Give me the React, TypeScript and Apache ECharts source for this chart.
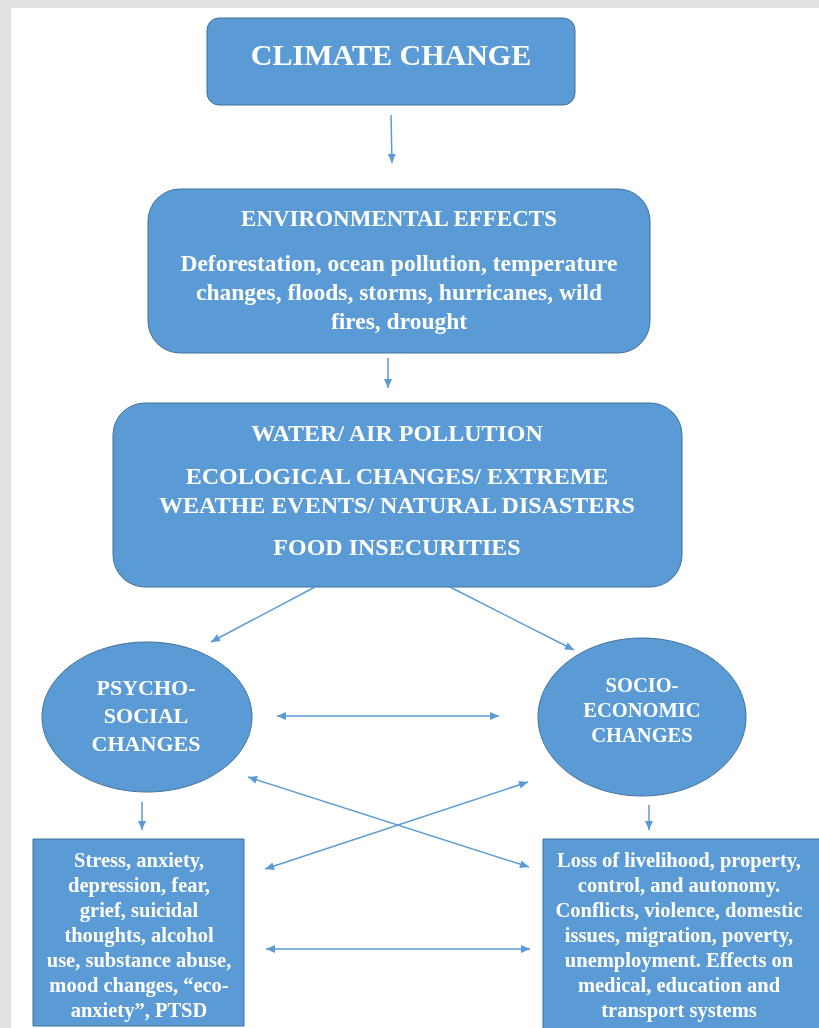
import React, { useEffect, useRef } from "react";
import * as echarts from "echarts";

const title = "CLIMATE CHANGE";
const envTitle = "ENVIRONMENTAL EFFECTS";
const envLines = [
  "Deforestation, ocean pollution, temperature",
  "changes, floods, storms, hurricanes, wild",
  "fires, drought",
];
const impactLines = [
  "WATER/ AIR POLLUTION",
  "ECOLOGICAL CHANGES/ EXTREME",
  "WEATHE EVENTS/ NATURAL DISASTERS",
  "FOOD INSECURITIES",
];
const psychoLines = ["PSYCHO-", "SOCIAL", "CHANGES"];
const socioLines = ["SOCIO-", "ECONOMIC", "CHANGES"];
const psychoEffects = [
  "Stress, anxiety,",
  "depression, fear,",
  "grief, suicidal",
  "thoughts, alcohol",
  "use, substance abuse,",
  "mood changes, \u201ceco-",
  "anxiety\u201d, PTSD",
];
const socioEffects = [
  "Loss of livelihood, property,",
  "control, and autonomy.",
  "Conflicts, violence, domestic",
  "issues, migration, poverty,",
  "unemployment. Effects on",
  "medical, education and",
  "transport systems",
];

const FILL = "#5b9bd5";
const STROKE = "#41719c";
const ARROW = "#5b9bd5";
const FONT = "'Liberation Serif', 'DejaVu Serif', serif";

function txt(s: string, x: number, y: number, size: number): any {
  return {
    type: "text",
    x,
    y,
    style: {
      text: s,
      fill: "#ffffff",
      font: `bold ${size}px ${FONT}`,
      textAlign: "center",
      textVerticalAlign: "middle",
    },
    z: 10,
  };
}

function head(x: number, y: number, ang: number): any {
  const L = 9, W = 4;
  const bx = x - L * Math.cos(ang), by = y - L * Math.sin(ang);
  const px = -Math.sin(ang) * W, py = Math.cos(ang) * W;
  return {
    type: "polygon",
    shape: { points: [[x, y], [bx + px, by + py], [bx - px, by - py]] },
    style: { fill: ARROW },
    z: 5,
  };
}

function arrow(x1: number, y1: number, x2: number, y2: number, both = false): any[] {
  const ang = Math.atan2(y2 - y1, x2 - x1);
  const els: any[] = [
    {
      type: "line",
      shape: { x1, y1, x2, y2 },
      style: { stroke: ARROW, lineWidth: 1.5 },
      z: 5,
    },
    head(x2, y2, ang),
  ];
  if (both) els.push(head(x1, y1, ang + Math.PI));
  return els;
}

export default function App() {
  const ref = useRef<HTMLDivElement>(null);
  useEffect(() => {
    const chart = echarts.init(ref.current!, null, { renderer: "svg" });
    const g: any[] = [];
    // background borders
    g.push({ type: "rect", shape: { x: 0, y: 0, width: 819, height: 1028 }, style: { fill: "#e1e1e1" }, z: 0 });
    g.push({ type: "rect", shape: { x: 11, y: 8, width: 808, height: 1020 }, style: { fill: "#ffffff" }, z: 1 });

    // Box 1
    g.push({ type: "rect", shape: { x: 207, y: 18, width: 368, height: 87, r: 12 }, style: { fill: FILL, stroke: STROKE, lineWidth: 1 }, z: 3 });
    g.push(txt(title, 391, 54, 30));
    g.push(...arrow(391, 115, 392, 163));

    // Box 2
    g.push({ type: "rect", shape: { x: 148, y: 189, width: 502, height: 164, r: 32 }, style: { fill: FILL, stroke: STROKE, lineWidth: 1 }, z: 3 });
    g.push(txt(envTitle, 399, 218, 23));
    envLines.forEach((s, i) => g.push(txt(s, 399, 263 + i * 29, 23.5)));
    g.push(...arrow(388, 358, 388, 388));

    // Box 3
    g.push({ type: "rect", shape: { x: 113, y: 403, width: 569, height: 184, r: 32 }, style: { fill: FILL, stroke: STROKE, lineWidth: 1 }, z: 3 });
    const iy = [433, 476, 505, 547];
    impactLines.forEach((s, i) => g.push(txt(s, 397, iy[i], 24)));

    // arrows to ellipses
    g.push(...arrow(315, 587, 211, 642));
    g.push(...arrow(450, 587, 574, 650));

    // ellipses
    g.push({ type: "ellipse", shape: { cx: 147, cy: 717, rx: 105, ry: 75 }, style: { fill: FILL, stroke: STROKE, lineWidth: 1 }, z: 3 });
    psychoLines.forEach((s, i) => g.push(txt(s, 146, 687 + i * 28, 22)));
    g.push({ type: "ellipse", shape: { cx: 642, cy: 717, rx: 104, ry: 79 }, style: { fill: FILL, stroke: STROKE, lineWidth: 1 }, z: 3 });
    socioLines.forEach((s, i) => g.push(txt(s, 642, 685 + i * 25, 20.5)));

    g.push(...arrow(277, 716, 499, 716, true));

    // cross arrows
    g.push(...arrow(248, 777, 529, 867, true));
    g.push(...arrow(528, 782, 265, 869, true));

    // down arrows
    g.push(...arrow(142, 802, 142, 830));
    g.push(...arrow(649, 805, 649, 830));

    // bottom boxes
    g.push({ type: "rect", shape: { x: 33, y: 839, width: 211, height: 187 }, style: { fill: FILL, stroke: STROKE, lineWidth: 1 }, z: 3 });
    psychoEffects.forEach((s, i) => g.push(txt(s, 139, 860 + i * 25, 20.5)));
    g.push({ type: "rect", shape: { x: 543, y: 839, width: 290, height: 200 }, style: { fill: FILL, stroke: STROKE, lineWidth: 1 }, z: 3 });
    socioEffects.forEach((s, i) => g.push(txt(s, 679, 860 + i * 25, 20.5)));

    g.push(...arrow(266, 949, 530, 949, true));

    chart.setOption({ animation: false, graphic: { elements: g } });
    return () => chart.dispose();
  }, []);
  return (
    <div
      ref={ref}
      style={{ position: "fixed", left: 0, top: 0, width: 819, height: 1028 }}
    />
  );
}
